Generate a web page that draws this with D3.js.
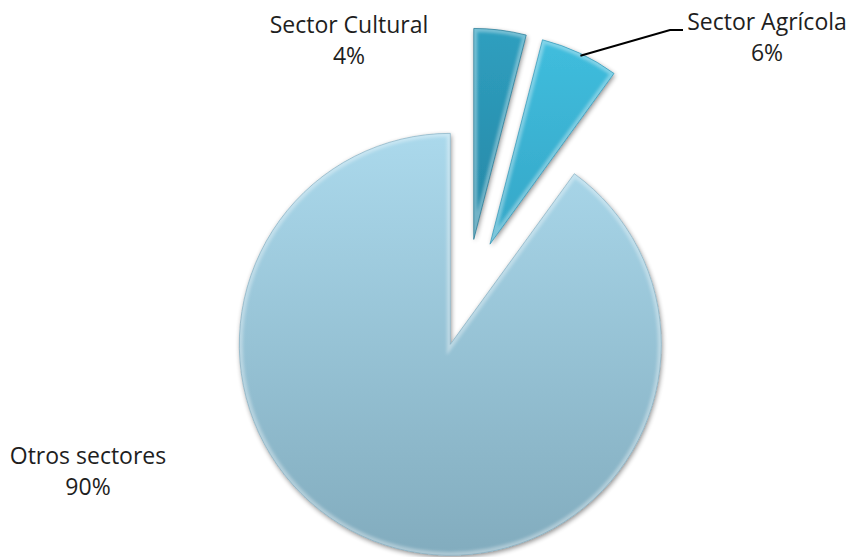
<!DOCTYPE html>
<html>
<head>
<meta charset="utf-8">
<script src="https://cdn.jsdelivr.net/npm/d3@7/dist/d3.min.js"></script>
<style>
  html, body { margin: 0; padding: 0; background: #ffffff; }
  svg { display: block; }
  text { font-family: "Open Sans", "Noto Sans", sans-serif; fill: #1e1e1e; }
</style>
</head>
<body>
<svg id="chart" width="853" height="557"></svg>
<script>
const categories = ["Sector Cultural", "Sector Agrícola", "Otros sectores"];
const values = [4, 6, 90];
const pctLabels = ["4%", "6%", "90%"];

const W = 853, H = 557;
const cx = 467, cy = 293, R = 211, explode = 54;

const topColors = ["#2f9fbf", "#40bede", "#abd9ec"];
const bottomColors = ["#1c6f8c", "#2a8fb0", "#82acbe"];

const svg = d3.select("#chart");
const defs = svg.append("defs");

const shadow = defs.append("filter").attr("id", "shadow")
  .attr("x", "-20%").attr("y", "-20%").attr("width", "140%").attr("height", "140%");
shadow.append("feGaussianBlur").attr("in", "SourceAlpha").attr("stdDeviation", 2.5).attr("result", "b");
shadow.append("feOffset").attr("in", "b").attr("dx", 1).attr("dy", 2).attr("result", "o");
shadow.append("feComponentTransfer").attr("in", "o").attr("result", "s")
  .append("feFuncA").attr("type", "linear").attr("slope", 0.45);
const m = shadow.append("feMerge");
m.append("feMergeNode").attr("in", "s");
m.append("feMergeNode").attr("in", "SourceGraphic");

const soft = defs.append("filter").attr("id", "soft");
soft.append("feGaussianBlur").attr("stdDeviation", 1.6);

const pie = d3.pie().sort(null).startAngle(0).endAngle(2 * Math.PI).value(d => d);
const arcs = pie(values);
const arcGen = d3.arc().innerRadius(0).outerRadius(R);

arcs.forEach((a, i) => {
  const mid = (a.startAngle + a.endAngle) / 2;
  const ox = Math.sin(mid) * explode, oy = -Math.cos(mid) * explode;
  const tx = cx + ox, ty = cy + oy;

  const g = defs.append("linearGradient").attr("id", "grad" + i)
    .attr("gradientUnits", "userSpaceOnUse")
    .attr("x1", 0).attr("y1", -R).attr("x2", 0).attr("y2", R);
  g.append("stop").attr("offset", "0%").attr("stop-color", topColors[i]);
  g.append("stop").attr("offset", "100%").attr("stop-color", bottomColors[i]);

  defs.append("clipPath").attr("id", "clip" + i)
    .append("path").attr("d", arcGen(a));

  const grp = svg.append("g").attr("transform", `translate(${tx},${ty})`);
  grp.append("path").attr("d", arcGen(a))
    .attr("fill", `url(#grad${i})`)
    .attr("filter", "url(#shadow)");
  const inner = grp.append("g").attr("clip-path", `url(#clip${i})`);
  inner.append("path").attr("d", arcGen(a))
    .attr("fill", "none")
    .attr("stroke", "#ffffff").attr("stroke-opacity", 0.35)
    .attr("stroke-width", 7)
    .attr("filter", "url(#soft)");
  grp.append("path").attr("d", arcGen(a))
    .attr("fill", "none")
    .attr("stroke", bottomColors[i]).attr("stroke-width", 0.8)
    .attr("stroke-opacity", 0.8);
});

// labels
const labelPos = [
  { x: 349, y1: 33, y2: 64 },
  { x: 767, y1: 30, y2: 61 },
  { x: 88, y1: 464, y2: 495 }
];
categories.forEach((c, i) => {
  const p = labelPos[i];
  svg.append("text").attr("x", p.x).attr("y", p.y1)
    .attr("text-anchor", "middle").attr("font-size", 23).text(c);
  svg.append("text").attr("x", p.x).attr("y", p.y2)
    .attr("text-anchor", "middle").attr("font-size", 23).text(pctLabels[i]);
});

// leader line for Sector Agrícola
const a1 = arcs[1];
const mid1 = (a1.startAngle + a1.endAngle) / 2;
const ang = a1.startAngle + (a1.endAngle - a1.startAngle) * 0.52;
const lx = cx + Math.sin(mid1) * explode + Math.sin(ang) * (R - 2);
const ly = cy - Math.cos(mid1) * explode - Math.cos(ang) * (R - 2);
svg.append("path")
  .attr("d", d3.line()([[lx, ly], [670, 30], [683, 30]]))
  .attr("fill", "none").attr("stroke", "#000").attr("stroke-width", 2);
</script>
</body>
</html>
